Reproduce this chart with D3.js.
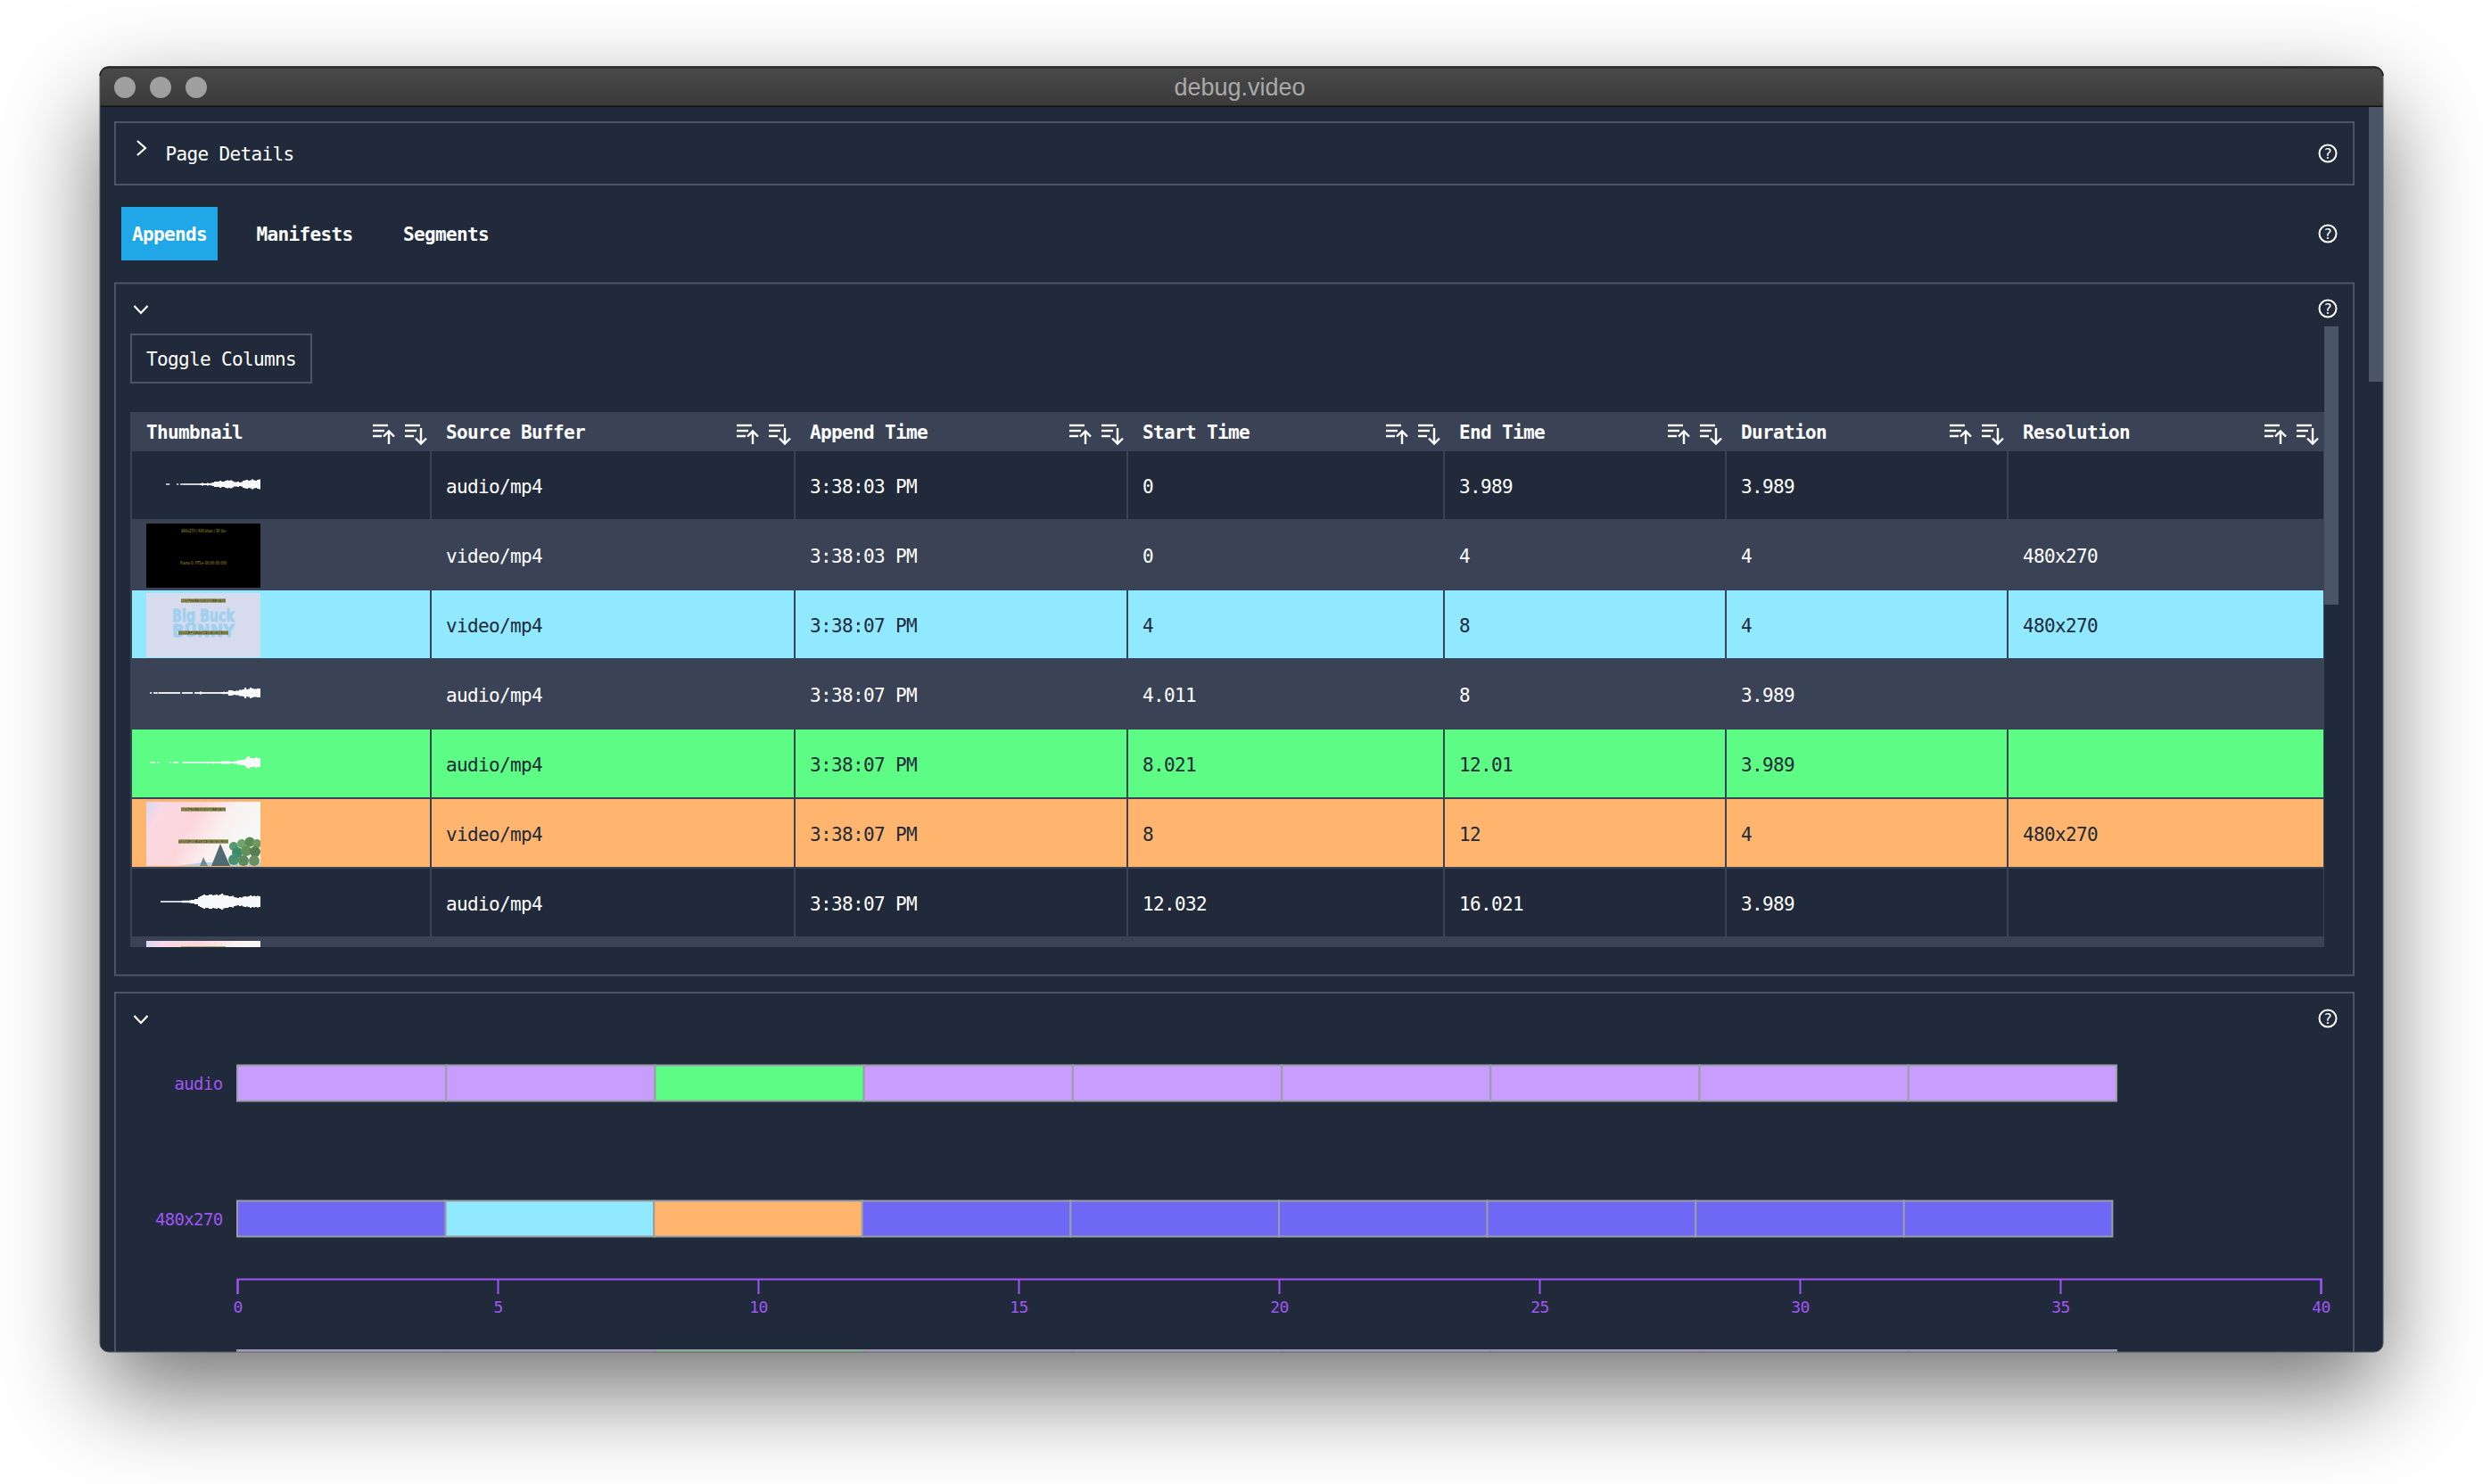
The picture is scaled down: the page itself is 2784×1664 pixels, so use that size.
<!DOCTYPE html>
<html><head><meta charset="utf-8">
<script src="https://cdn.jsdelivr.net/npm/d3@7"></script>
<style>html,body{margin:0;padding:0;background:#fff;overflow:hidden}svg{display:block}
text{font-family:"DejaVu Sans Mono",monospace}</style></head><body>
<script>
// ---- data ----
const columnNames = ["Thumbnail","Source Buffer","Append Time","Start Time","End Time","Duration","Resolution"];
const thumbKinds = ["wave0","black","bunny","wave1","wave2","sky","wave3","sky"];
const sourceBuffers = ["audio/mp4","video/mp4","video/mp4","audio/mp4","audio/mp4","video/mp4","audio/mp4","video/mp4"];
const appendTimes = ["3:38:03 PM","3:38:03 PM","3:38:07 PM","3:38:07 PM","3:38:07 PM","3:38:07 PM","3:38:07 PM","3:38:07 PM"];
const startTimes = ["0","0","4","4.011","8.021","8","12.032","12"];
const endTimes = ["3.989","4","8","8","12.01","12","16.021","16"];
const durations = ["3.989","4","4","3.989","3.989","4","3.989","4"];
const resolutions = ["","480x270","480x270","","","480x270","","480x270"];
const rowStates = ["", "", "cyan", "", "green", "orange", "", ""];
const tabs = ["Appends","Manifests","Segments"];
const wave0 = [0,0,0,0,0,0,0,0,0,0,0,.7,.7,0,0,0,0,.7,0,.7,.7,.8,.8,.8,.8,.8,.8,.8,.8,.8,1,1.5,1,1,1.5,1,1.5,2,3,3,3,4,3,3,4,4.5,4,4.5,3.5,2.5,2.5,3,2,2.5,4,4.5,5,4,4.5,5.5,4.5,4,5,5.5];
const wave1 = [0,0,.8,0,.8,.9,.5,.9,.9,.9,.9,.9,.9,.9,.9,.9,.9,.9,.9,0,.9,.9,.9,.9,.9,.9,0,.9,.9,.9,1.5,.9,.9,.9,.9,.9,.9,.9,.9,.9,.9,.9,1,1.3,1,1.3,3,3,2.5,2,2.5,2.5,3.5,3.5,4,6,4,4.5,6,5,4.5,4.5,5,5];
const wave2 = [0,0,.7,.7,.7,0,.7,0,0,0,0,0,0,.7,0,.7,.7,.7,0,0,.8,.8,.8,.8,.8,.8,.8,.8,.8,.8,.8,.8,.8,.8,.8,.8,.8,1.2,.8,.8,.8,.8,1.5,1.5,1.5,1.5,1.5,.8,1,1.5,1.5,2.5,2.5,3,3,4,6,7,5,5,4.5,6,5,5];
const wave3 = [0,0,0,0,0,0,0,0,.8,.8,.8,.8,.8,.8,.8,.8,.8,.8,.8,.8,1.2,1.2,1.2,1.2,1.5,2,2,3,3,5,6,7,8,7,7,8,8,7,7.5,8,7,8,9,7.5,7,7,6,6,6.5,5,4.5,4,5,4.5,5.5,6,5.5,6,7,6,6.5,6,6.5,6];
const waves = {wave0,wave1,wave2,wave3};
const audioStart = [0,4.011,8.021,12.032,16.043,20.053,24.064,28.075,32.085];
const audioEnd = [4.011,8.021,12.032,16.043,20.053,24.064,28.075,32.085,36.08];
const audioState = ["","","green","","","","","",""];
const videoStart = [0,4,8,12,16,20,24,28,32];
const videoEnd = [4,8,12,16,20,24,28,32,36];
const videoState = ["","cyan","orange","","","","","",""];
const tracks = ["audio","480x270"];
const axisTicks = [0,5,10,15,20,25,30,35,40];

// ---- palette ----
const BG="#202a3a",ALT="#3a4355",EDGE="#4a5568",WHITE="#fff";
const stateFill={cyan:"#90e9ff",green:"#5cfc85",orange:"#ffb56e"};
const AUDIO="#c99dff",VIDEO="#6e68f5",AXIS="#a155f5",BARSTROKE="#999ea6";

const W=2784,H=1664;
const svg=d3.select("body").append("svg").attr("width",W).attr("height",H).attr("viewBox",`0 0 ${W} ${H}`);
const defs=svg.append("defs");
const win={x:112,y:75,w:2560,h:1441};

svg.append("rect").attr("x",win.x).attr("y",win.y).attr("width",win.w).attr("height",win.h).attr("rx",10)
  .attr("fill",BG).style("filter","drop-shadow(0 44px 55px rgba(0,0,0,.55))");
defs.append("clipPath").attr("id","win").append("rect").attr("x",win.x).attr("y",win.y).attr("width",win.w).attr("height",win.h).attr("rx",10);
const g=svg.append("g").attr("clip-path","url(#win)");
g.append("rect").attr("x",win.x).attr("y",win.y).attr("width",win.w).attr("height",win.h).attr("fill",BG);

// title bar
const grad=defs.append("linearGradient").attr("id","tb").attr("x1",0).attr("x2",0).attr("y1",0).attr("y2",1);
grad.append("stop").attr("offset",0).attr("stop-color","#4a4a4a");
grad.append("stop").attr("offset",1).attr("stop-color","#3a3a3a");
g.append("rect").attr("x",win.x).attr("y",win.y).attr("width",win.w).attr("height",45).attr("fill","url(#tb)");
g.append("rect").attr("x",win.x).attr("y",win.y).attr("width",win.w).attr("height",1.5).attr("fill","#1a1a1a");
g.append("rect").attr("x",win.x).attr("y",118.5).attr("width",win.w).attr("height",1.5).attr("fill","#111");
g.selectAll("circle.tl").data([140,180,220]).join("circle").attr("class","tl").attr("cx",d=>d).attr("cy",98).attr("r",12).attr("fill","#9f9f9f");
g.append("text").attr("x",1390).attr("y",106.5).attr("text-anchor","middle").attr("font-size",27)
 .style("font-family","'Liberation Sans',sans-serif").attr("fill","#a9a9a9").text("debug.video");

// outer scrollbar
g.append("rect").attr("x",2656).attr("y",120).attr("width",16).attr("height",308).attr("fill",EDGE);

const box=(x,y,w,h)=>g.append("rect").attr("x",x+1).attr("y",y+1).attr("width",w-2).attr("height",h-2).attr("fill","none").attr("stroke",EDGE).attr("stroke-width",2);
box(128,136,2512,72);
box(128,316.5,2512,778);
box(128,1112,2512,500);

const T=(x,y,t,o={})=>g.append("text").attr("x",x).attr("y",y).attr("font-size",o.size||20).attr("font-weight",o.bold?"bold":"normal")
  .attr("text-anchor",o.anchor||"start").attr("fill",o.fill||WHITE).text(t);
const line=d3.line();
const chev=(pts)=>g.append("path").attr("d",line(pts)).attr("fill","none").attr("stroke",WHITE).attr("stroke-width",2.2);
chev([[154,158],[163,166],[154,174]]);
chev([[150.5,343],[158,351],[165.5,343]]);
chev([[150.5,1139],[158,1147],[165.5,1139]]);
T(185.5,180,"Page Details");

// help icons
[172,262,346,1142].forEach(y=>{
  g.append("circle").attr("cx",2610).attr("cy",y).attr("r",9.5).attr("fill","none").attr("stroke",WHITE).attr("stroke-width",2);
  g.append("text").attr("x",2610).attr("y",y+5.5).attr("text-anchor","middle").attr("font-size",16).attr("fill",WHITE).text("?");
});

// tabs
g.append("rect").attr("x",136).attr("y",232).attr("width",108).attr("height",60).attr("fill","#20a7e8");
const tabX=d3.scaleOrdinal().domain(tabs).range([148,287.5,452]);
tabs.forEach(t=>T(tabX(t),270,t,{bold:true}));

// toggle
box(146,374,204,56);
T(164,410,"Toggle Columns");

// ---- table ----
const colEdges=[148,483,891,1264,1619,1935,2251,2604];
defs.append("clipPath").attr("id","tbl").append("rect").attr("x",146).attr("y",462).attr("width",2460).attr("height",600);
const tbl=g.append("g").attr("clip-path","url(#tbl)");
const rowIdx=d3.range(thumbKinds.length);
const rowY=d3.scaleLinear().domain([0,1]).range([506,584]);
const rowH=78;
tbl.append("rect").attr("x",146).attr("y",462).attr("width",2460).attr("height",44).attr("fill",ALT);
tbl.selectAll("rect.row").data(rowIdx).join("rect").attr("class","row")
  .attr("x",146).attr("y",i=>rowY(i)).attr("width",2460).attr("height",rowH)
  .attr("fill",i=>i%2?ALT:BG);
tbl.selectAll("rect.st").data(rowIdx.filter(i=>rowStates[i])).join("rect").attr("class","st")
  .attr("x",148).attr("y",i=>rowY(i)).attr("width",2457).attr("height",rowH-2)
  .attr("fill",i=>stateFill[rowStates[i]]);
tbl.selectAll("rect.hb").data(rowIdx).join("rect").attr("class","hb")
  .attr("x",146).attr("y",i=>rowY(i)+rowH-2).attr("width",2460).attr("height",2).attr("fill",ALT);
tbl.selectAll("rect.vb").data(colEdges.slice(1,-1)).join("rect").attr("class","vb")
  .attr("x",d=>d-1).attr("y",506).attr("width",2).attr("height",rowY(7)-506).attr("fill",ALT);
tbl.append("rect").attr("x",146).attr("y",506).attr("width",2).attr("height",560).attr("fill",ALT);
tbl.append("rect").attr("x",2605).attr("y",506).attr("width",1).attr("height",560).attr("fill",ALT);

// cell text
const cols=[null,sourceBuffers,appendTimes,startTimes,endTimes,durations,resolutions];
cols.forEach((arr,c)=>{
  if(!arr) return;
  tbl.selectAll("text.c"+c).data(rowIdx).join("text").attr("class","c"+c)
    .attr("x",colEdges[c]+17).attr("y",i=>rowY(i)+46.5).attr("font-size",20)
    .attr("fill",i=>rowStates[i]?BG:WHITE).text(i=>arr[i]);
});

// header text + sort icons
columnNames.forEach((name,c)=>{
  tbl.append("text").attr("x",c?colEdges[c]+17:164).attr("y",492).attr("font-size",20).attr("font-weight","bold").attr("fill",WHITE).text(name);
  const r=colEdges[c+1];
  const ic=tbl.append("g").attr("fill","none").attr("stroke",WHITE).attr("stroke-width",2.4);
  const a=r-65,b=r-29;
  [[477,17],[483,13],[489,10]].forEach(([y,l])=>{
    ic.append("path").attr("d",line([[a,y],[a+l,y]]));
    ic.append("path").attr("d",line([[b,y],[b+l,y]]));
  });
  ic.append("path").attr("d",line([[a+18,484],[a+18,498]]));
  ic.append("path").attr("d",line([[a+12,489.5],[a+18,483.5],[a+24,489.5]]));
  ic.append("path").attr("d",line([[b+18,480],[b+18,497]]));
  ic.append("path").attr("d",line([[b+12,491.5],[b+18,497.5],[b+24,491.5]]));
});

// thumbnails
const thumbX=164,thumbW=128,thumbH=72;
const skyG=defs.append("linearGradient").attr("id","sky").attr("x1",0).attr("y1",0).attr("x2",1).attr("y2",.3);
[[0,"#d6d8f2"],[.15,"#fad8e4"],[.45,"#fcd6dc"],[.72,"#faf0f0"],[1,"#f8f8f8"]].forEach(([o,c])=>skyG.append("stop").attr("offset",o).attr("stop-color",c));
const treeDots=[[262,50,5,"#5a9a70"],[271,47,5,"#6fa56a"],[280,45,5.5,"#5c8a55"],[288,47,5,"#6e9a5e"],[266,57,6,"#3f8a68"],[276,55,6,"#64925c"],[286,56,6,"#557f50"],[262,65,6,"#4a9070"],[273,66,6,"#5b8a60"],[285,66,6,"#6a9060"]];
const mini=(p,x,y,w,t,strip)=>{
  if(strip) p.append("rect").attr("x",x).attr("y",y-2.5).attr("width",w).attr("height",4).attr("fill","#5a5a30");
  p.append("text").attr("x",x).attr("y",y+1).attr("textLength",w).attr("lengthAdjust","spacingAndGlyphs")
   .attr("font-size",5).style("font-family","'DejaVu Sans',sans-serif").attr("fill",strip?"#c0c060":"#a8a824").text(t);
};
const xWave=d3.scaleLinear().domain([0,64]).range([thumbX,thumbX+thumbW]);
rowIdx.forEach(i=>{
  const k=thumbKinds[i],y0=rowY(i);
  const cy=y0+39,top=cy-36;
  const clipId="th"+i;
  defs.append("clipPath").attr("id",clipId).append("rect").attr("x",thumbX).attr("y",top).attr("width",thumbW).attr("height",thumbH);
  const p=tbl.append("g").attr("clip-path",`url(#${clipId})`);
  if(waves[k]){
    const pts=waves[k].map((v,j)=>({v,j})).filter(d=>d.v>0);
    p.selectAll("rect").data(pts).join("rect")
      .attr("x",d=>xWave(d.j)).attr("width",xWave(1)-xWave(0)+.2)
      .attr("y",d=>cy-2-d.v).attr("height",d=>2*d.v).attr("fill","#f7f9fb");
  } else if(k==="black"){
    p.append("rect").attr("x",thumbX).attr("y",top).attr("width",thumbW).attr("height",thumbH).attr("fill","#000");
    mini(p,203,top+9,50,"480x270 / 600 kbps / 30 fps");
    mini(p,202,top+45,52,"Frame 0: PTS= 00:00:00.000");
  } else if(k==="bunny"){
    p.append("rect").attr("x",thumbX).attr("y",top).attr("width",thumbW).attr("height",thumbH).attr("fill","#d6dcee");
    const big=(t,y)=>p.append("text").attr("x",193).attr("y",y).attr("textLength",70).attr("lengthAdjust","spacingAndGlyphs")
      .attr("font-size",20).attr("font-weight","bold").style("font-family","'DejaVu Sans',sans-serif")
      .attr("fill","#9fd0f0").attr("stroke","#9fd0f0").attr("stroke-width",.8).text(t);
    big("Big Buck",top+32); big("BUNNY",top+49);
    mini(p,203,top+9,50,"480x270 / 600 kbps / 30 fps",true);
    mini(p,200,top+45,56,"Frame 120: PTS= 00:00:04.000",true);
  } else {
    p.append("rect").attr("x",thumbX).attr("y",top).attr("width",thumbW).attr("height",thumbH).attr("fill","url(#sky)");
    p.append("path").attr("d",line([[196,top+72],[230,top+68],[292,top+68],[292,top+72]])).attr("fill","#b5d3e6");
    p.selectAll("circle").data(treeDots).join("circle").attr("cx",d=>d[0]).attr("cy",d=>top+d[1]).attr("r",d=>d[2]).attr("fill",d=>d[3]);
    p.append("path").attr("d",line([[237,top+72],[247,top+47],[258,top+72]])).attr("fill","#4f6a70");
    p.append("path").attr("d",line([[224,top+72],[228,top+62],[233,top+72]])).attr("fill","#6a8f90");
    mini(p,203,top+9,50,"480x270 / 600 kbps / 30 fps",true);
    mini(p,200,top+45,56,"Frame 240: PTS= 00:00:08.000",true);
  }
});

// inner scrollbar
g.append("rect").attr("x",2606).attr("y",366).attr("width",16).attr("height",312).attr("fill",EDGE);

// ---- timeline ----
const x=d3.scaleLinear().domain([0,40]).range([266,2602]);
const yTrack=d3.scaleOrdinal().domain(tracks).range([1194.5,1346.5]);
const barH=40;
const drawBars=(cls,starts,ends,states,base,y)=>{
  g.selectAll("rect."+cls).data(d3.range(starts.length)).join("rect").attr("class",cls)
    .attr("x",i=>x(starts[i])).attr("y",y).attr("width",i=>x(ends[i])-x(starts[i])).attr("height",barH)
    .attr("fill",i=>states[i]?stateFill[states[i]]:base)
    .attr("stroke",BARSTROKE).attr("stroke-width",2);
};
drawBars("ba",audioStart,audioEnd,audioState,AUDIO,yTrack("audio"));
drawBars("bv",videoStart,videoEnd,videoState,VIDEO,yTrack("480x270"));
drawBars("bo",audioStart,audioEnd,audioState,AUDIO,1514);

tracks.forEach(t=>g.append("text").attr("x",249.5).attr("y",yTrack(t)+27).attr("text-anchor","end").attr("font-size",18).attr("fill",AXIS).text(t));

const axis=d3.axisBottom(x).tickValues(axisTicks).tickSize(17).tickPadding(8).tickFormat(d3.format("d"));
const ax=g.append("g").attr("transform","translate(0,1434)").call(axis);
ax.selectAll("path,line").attr("stroke",AXIS).attr("stroke-width",2);
ax.selectAll("text").attr("font-size",17).attr("fill",AXIS).style("font-family","'DejaVu Sans Mono',monospace");

// tall, tight monospace like the reference: same advance, slightly larger glyphs
const sizeUp={20:21,18:19,17:18};
g.selectAll("text").each(function(){
  const s=+d3.select(this).attr("font-size");
  if(sizeUp[s] && !d3.select(this).attr("textLength") && this.textContent!=="debug.video")
    d3.select(this).attr("font-size",sizeUp[s]).attr("letter-spacing",-.64);
});

// window edge
svg.append("rect").attr("x",win.x).attr("y",win.y).attr("width",win.w).attr("height",win.h).attr("rx",10).attr("fill","none").attr("stroke","#555b63").attr("stroke-width",1);
svg.append("path").attr("d",`M${win.x},${win.y+10}A10,10 0 0 1 ${win.x+10},${win.y}H${win.x+win.w-10}A10,10 0 0 1 ${win.x+win.w},${win.y+10}`).attr("fill","none").attr("stroke","#222").attr("stroke-width",1.5);
</script></body></html>
